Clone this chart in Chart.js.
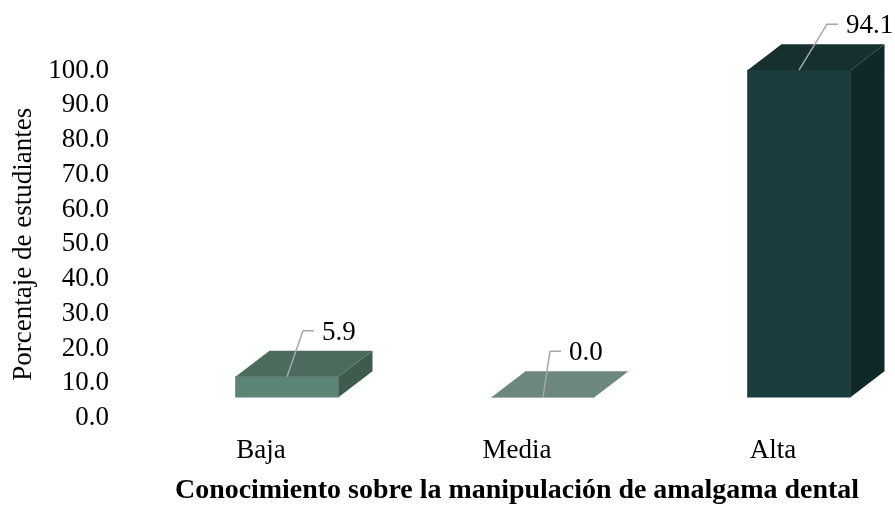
<!DOCTYPE html>
<html>
<head>
<meta charset="utf-8">
<script src="https://cdn.jsdelivr.net/npm/chart.js@4.4.0/dist/chart.umd.min.js"></script>
<style>
  html, body { margin: 0; padding: 0; background: #ffffff; }
  canvas { display: block; }
</style>
</head>
<body>
<canvas id="chart" width="895" height="505"></canvas>
<script>
// ---- data ----
const categories = ['Baja', 'Media', 'Alta'];
const percentages = [5.9, 0.0, 94.1];
const yTickMin = 0;
const yTickMax = 100;
const yTickStep = 10;
const xAxisTitle = 'Conocimiento sobre la manipulación de amalgama dental';
const yAxisTitle = 'Porcentaje de estudiantes';

// ---- styling ----
const FONT = "'Liberation Serif', 'Times New Roman', serif";
const frontColors = ['#5d8576', '#6c877d', '#1b3d3d'];
const topColors   = ['#4b6b5c', '#6c877d', '#16302f'];
const sideColors  = ['#3e5b4d', '#546b61', '#112828'];
const DEPTH_X = 34;      // 3D extrusion to the right
const DEPTH_Y = -26;     // 3D extrusion upwards
const leaderDx = [16, 7, 28];   // horizontal reach of each label leader
const LEADER_DY = -46;

// Top and side faces for the extruded bars
const bars3d = {
  id: 'bars3d',
  afterDatasetsDraw(chart) {
    const ctx = chart.ctx;
    const meta = chart.getDatasetMeta(0);
    meta.data.forEach((bar, i) => {
      const p = bar.getProps(['x', 'y', 'base', 'width'], true);
      const l = p.x - p.width / 2, r = p.x + p.width / 2;
      const top = Math.min(p.y, p.base), bottom = Math.max(p.y, p.base);
      ctx.save();
      if (bottom - top > 0.5) {
        ctx.fillStyle = sideColors[i];
        ctx.beginPath();
        ctx.moveTo(r, top);
        ctx.lineTo(r + DEPTH_X, top + DEPTH_Y);
        ctx.lineTo(r + DEPTH_X, bottom + DEPTH_Y);
        ctx.lineTo(r, bottom);
        ctx.closePath();
        ctx.fill();
      }
      ctx.fillStyle = topColors[i];
      ctx.beginPath();
      ctx.moveTo(l, top);
      ctx.lineTo(l + DEPTH_X, top + DEPTH_Y);
      ctx.lineTo(r + DEPTH_X, top + DEPTH_Y);
      ctx.lineTo(r, top);
      ctx.closePath();
      ctx.fill();
      ctx.restore();
    });
  }
};

// Value labels with leader lines
const valueLabels = {
  id: 'valueLabels',
  afterDatasetsDraw(chart) {
    const ctx = chart.ctx;
    const meta = chart.getDatasetMeta(0);
    const values = chart.data.datasets[0].data;
    meta.data.forEach((bar, i) => {
      const p = bar.getProps(['x', 'y'], true);
      const kx = p.x + leaderDx[i], ky = p.y + LEADER_DY;
      ctx.save();
      ctx.strokeStyle = '#a6a6a6';
      ctx.lineWidth = 1.5;
      ctx.beginPath();
      ctx.moveTo(p.x, p.y);
      ctx.lineTo(kx, ky);
      ctx.lineTo(kx + 11, ky);
      ctx.stroke();
      ctx.fillStyle = '#000000';
      ctx.font = '27px ' + FONT;
      ctx.textAlign = 'left';
      ctx.textBaseline = 'middle';
      ctx.fillText(values[i].y.toFixed(1), kx + 19, ky + 2);
      ctx.restore();
    });
  }
};

new Chart(document.getElementById('chart'), {
  type: 'bar',
  data: {
    datasets: [{
      data: percentages.map((v, i) => ({ x: i, y: v })),
      xAxisID: 'xb',
      yAxisID: 'yb',
      backgroundColor: frontColors,
      borderWidth: 0,
      barThickness: 103,
      clip: false
    }]
  },
  options: {
    responsive: false,
    animation: false,
    devicePixelRatio: 1,
    layout: { padding: { left: 0, right: 36, top: 70.5, bottom: 0 } },
    plugins: { legend: { display: false }, tooltip: { enabled: false } },
    scales: {
      // category axis: one tick per category index
      x: {
        type: 'linear',
        offset: false,
        bounds: 'data',
        min: -0.336, max: 2.336,
        grid: { display: false, drawTicks: false, offset: false },
        border: { display: false },
        afterBuildTicks(s) { s.ticks = categories.map((c, i) => ({ value: i })); },
        ticks: {
          stepSize: 1, color: '#000', padding: 17, autoSkip: false, maxRotation: 0,
          font: { family: FONT, size: 27 },
          callback: v => categories[v]
        },
        title: {
          display: true, text: xAxisTitle, color: '#000',
          font: { family: FONT, size: 28, weight: 'bold', lineHeight: 1 },
          padding: { top: 0, bottom: 0.5 }
        },
        afterFit(s) { s.height = 87; }
      },
      y: {
        type: 'linear',
        min: yTickMin, max: yTickMax,
        grid: { display: false, drawTicks: false },
        border: { display: false },
        ticks: {
          stepSize: yTickStep, color: '#000', padding: 66, autoSkip: false,
          font: { family: FONT, size: 27 },
          callback: v => v.toFixed(1)
        },
        title: {
          display: true, text: yAxisTitle, color: '#000',
          font: { family: FONT, size: 27 },
          padding: { top: 7.8, bottom: 0 }
        },
        afterFit(s) { s.width = 175; s.paddingTop = 0; s.paddingBottom = 0; }
      },
      // bar placement axes: the 3D front faces sit slightly right of the category
      // labels and above the visible zero line
      xb: { type: 'linear', display: false, offset: false, min: -0.4375, max: 2.2344 },
      yb: { type: 'linear', display: false, min: -6, max: 94 }
    }
  },
  plugins: [bars3d, valueLabels]
});
</script>
</body>
</html>
